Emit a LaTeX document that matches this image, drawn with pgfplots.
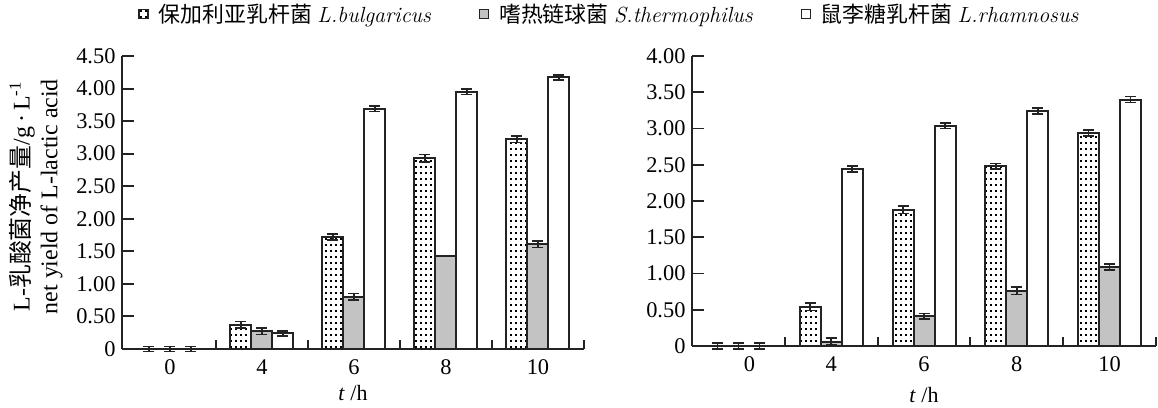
\documentclass[border=0pt]{standalone}
\usepackage{fontspec}
\setmainfont{Liberation Serif}
\newfontfamily\cjk{Noto Sans CJK SC}
\newfontfamily\lm{Latin Modern Roman}
\usepackage{pgfplots}
\usepackage{pgfplotstable}
\pgfplotsset{compat=1.18}
\usetikzlibrary{patterns}
\pgfdeclarepatternformonly{bdots}{\pgfqpoint{-1bp}{-1bp}}{\pgfqpoint{5bp}{6bp}}{\pgfqpoint{5bp}{6bp}}{\pgfpathrectangle{\pgfqpoint{0bp}{0bp}}{\pgfqpoint{1.9bp}{1.9bp}}\pgfusepath{fill}}
\definecolor{stgray}{RGB}{195,195,195}
\definecolor{edge}{RGB}{35,35,35}

% left panel
\pgfplotstableread{
x y e
0 0    0.04
1 0.37 0.05
2 1.72 0.05
3 2.93 0.06
4 3.22 0.05
}\LA
\pgfplotstableread{
x y e
0 0    0.04
1 0.27 0.05
2 0.80 0.05
3 1.43 0
4 1.61 0.05
}\LB
\pgfplotstableread{
x y e
0 0    0.04
1 0.24 0.04
2 3.69 0.04
3 3.95 0.04
4 4.17 0.04
}\LC
% right panel
\pgfplotstableread{
x y e
0 0    0.04
1 0.54 0.05
2 1.88 0.05
3 2.48 0.04
4 2.94 0.04
}\RA
\pgfplotstableread{
x y e
0 0    0.04
1 0.06 0.05
2 0.41 0.04
3 0.76 0.05
4 1.09 0.04
}\RB
\pgfplotstableread{
x y e
0 0    0.04
1 2.44 0.04
2 3.04 0.04
3 3.24 0.04
4 3.40 0.04
}\RC

\pgfplotsset{
  panel/.style={
    scale only axis,
    axis x line=bottom, axis y line=left,
    axis line style={-, line width=1.9bp, edge},
    ybar=0pt, bar width=21bp,
    clip=false,
    ymin=0, xmax=4.5,
    tick align=inside,
    major tick length=12bp, minor tick length=9bp,
    tick style={line width=1.9bp, edge},
    major x tick style={draw=none},
    minor x tick style={draw=edge, line width=1.9bp},
    minor xtick={0.5,1.5,2.5,3.5,4.5},
    xticklabels={0,4,6,8,10},
    tick label style={font=\fontsize{22.5}{26}\selectfont},
    yticklabel style={xshift=-3bp},
    xticklabel style={yshift=-7bp},
    xlabel={\textit{t} /h},
    xlabel style={font=\fontsize{22}{26}\selectfont, anchor=center},
    error bars/y dir=both, error bars/y explicit,
    error bars/error bar style={line width=1.6bp, edge},
    error bars/error mark options={rotate=90, mark size=5.5bp, line width=1.6bp, edge},
  },
  sA/.style={draw=edge, line width=2bp, pattern=bdots, pattern color=black},
  sB/.style={draw=edge, line width=2bp, fill=stgray},
  sC/.style={draw=edge, line width=2bp, fill=white},
}

\begin{document}
\begin{tikzpicture}
\useasboundingbox (0,0) rectangle (1158bp,408bp);
\begin{axis}[panel,
  at={(122bp,59bp)}, anchor=south west,
  width=462bp, height=293bp,
  xmin=-0.52, ymax=4.5,
  xtick={0,1,2,3,4},
  ytick={0,0.5,1,1.5,2,2.5,3,3.5,4,4.5},
  yticklabels={0,0.50,1.00,1.50,2.00,2.50,3.00,3.50,4.00,4.50},
  xlabel style={at={(axis description cs:0.5,-0.15)}},
  ylabel={L-{\cjk 乳酸菌净产量}/g\,·\,L\textsuperscript{-1}\\net yield of L-lactic acid},
  ylabel style={font=\fontsize{24}{28}\selectfont, align=center, rotate=0,
    at={(axis description cs:-0.186,0.52)}, anchor=center},
  legend style={draw=none, fill=none, inner sep=0pt, legend columns=3,
    at={(axis description cs:0.035,1.143)}, anchor=west,
    font=\fontsize{22}{26}\selectfont,
    /tikz/every odd column/.append style={column sep=8bp},
    /tikz/every even column/.append style={column sep=46bp}},
  legend image code/.code={\draw[#1, line width=1.2bp] (0bp,-4.5bp) rectangle (9bp,4.5bp);},
]
\addplot[sA] table[x=x, y=y, y error=e] {\LA};
\addplot[sB] table[x=x, y=y, y error=e] {\LB};
\addplot[sC] table[x=x, y=y, y error=e] {\LC};
\legend{{\cjk 保加利亚乳杆菌} {\lm\itshape L.bulgaricus},{\cjk 嗜热链球菌} {\lm\itshape S.thermophilus},{\cjk 鼠李糖乳杆菌} {\lm\itshape L.rhamnosus}}
\end{axis}

\begin{axis}[panel,
  at={(692bp,62bp)}, anchor=south west,
  width=464bp, height=290bp,
  xmin=-0.5, ymax=4,
  xtick={0.12,1,2,3,4},
  ytick={0,0.5,1,1.5,2,2.5,3,3.5,4},
  yticklabels={0,0.50,1.00,1.50,2.00,2.50,3.00,3.50,4.00},
  xlabel style={at={(axis description cs:0.5,-0.17)}},
]
\addplot[sA] table[x=x, y=y, y error=e] {\RA};
\addplot[sB] table[x=x, y=y, y error=e] {\RB};
\addplot[sC] table[x=x, y=y, y error=e] {\RC};
\end{axis}
\end{tikzpicture}
\end{document}
